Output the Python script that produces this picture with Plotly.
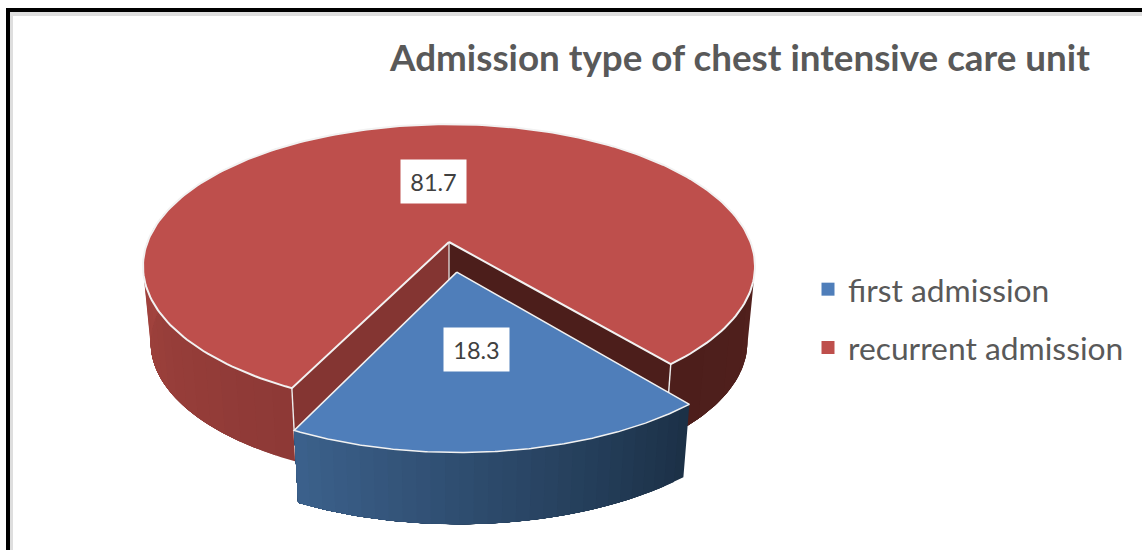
import numpy as np
import plotly.graph_objects as go

categories = ["first admission", "recurrent admission"]
values = [18.3, 81.7]
title_text = "Admission type of chest intensive care unit"

FIRST_ANGLE = 140.3      # pie rotation, degrees clockwise from the top
EXPLODE = [0.212, 0.0]   # slice pull-out, share of radius
TOP_COLORS = ["#4F7EBA", "#BE4F4C"]
FONT = "Lato"
TXT = "#595959"

# projection of the pie (screen pixels on hidden axes)
AX, AY = 449.0, 242.0
A, B, K = 301.5, 137.9, 0.171
DEPTH, SHRINK = 77.0, 0.975


def project(X, Y, bottom=False):
    X, Y = np.asarray(X, float), np.asarray(Y, float)
    s = 1.0 / (1.0 - K * Y)
    f = SHRINK if bottom else 1.0
    d = DEPTH if bottom else 0.0
    return AX + A * X * s * f, AY + d + B * Y * s * f


def polar(deg, r=1.0):
    a = np.radians(deg)
    return r * np.sin(a), -r * np.cos(a)


def mix(c1, c2, t):
    return "rgb(%d,%d,%d)" % tuple(round(p + (q - p) * t) for p, q in zip(c1, c2))


fractions = np.array(values) / sum(values)
spans = fractions * 360
starts = FIRST_ANGLE + np.concatenate([[0], np.cumsum(spans)[:-1]])
mids = starts + spans / 2
offsets = [polar(m, e) for m, e in zip(mids, EXPLODE)]

fig = go.Figure()


def poly(xs, ys, fill, line=None, width=0):
    fig.add_trace(go.Scatter(
        x=list(xs), y=list(ys), mode="lines", fill="toself", fillcolor=fill,
        line=dict(color=line or fill, width=width if line else 0),
        hoverinfo="skip", showlegend=False))


def side(i, a0, a1, colour_at, n):
    # painted from a0 onwards: each band reaches to a1, so no seams show between bands
    ox, oy = offsets[i]
    edges = np.linspace(a0, a1, n + 1)
    for j in range(n):
        t = np.linspace(edges[j], a1, 60)
        X, Y = polar(t)
        xt, yt = project(X + ox, Y + oy)
        xb, yb = project(X + ox, Y + oy, bottom=True)
        poly(np.r_[xt, xb[::-1], xt[0]], np.r_[yt, yb[::-1], yt[0]],
             colour_at((j + 0.5) / n))


def wedge(i, colour, width=2.0):
    ox, oy = offsets[i]
    t = np.linspace(starts[i], starts[i] + spans[i], 240)
    X, Y = polar(t)
    px, py = project(np.r_[ox, X + ox, ox], np.r_[oy, Y + oy, oy])
    poly(px, py, colour, "#F2F2F2", width)


# --- recurrent admission (back slice)
r0, r1 = starts[1], starts[1] + spans[1]
side(1, r0, r0 + 85, lambda t: mix((141, 57, 54), (168, 70, 64), t), 22)
side(1, r1 - 55, r1, lambda t: mix((84, 33, 30), (76, 30, 27), t), 6)

# cut walls
for ang, col in ((r1, "#4C1E1B"), (r0, "#843532")):
    ex, ey = polar(ang)
    xt, yt = project([0, ex], [0, ey])
    xb, yb = project([0, ex], [0, ey], bottom=True)
    poly([xt[0], xt[1], xb[1], xb[0], xt[0]], [yt[0], yt[1], yb[1], yb[0], yt[0]], col)
    fig.add_trace(go.Scatter(x=[xt[1], xb[1]], y=[yt[1], yb[1]], mode="lines",
                             line=dict(color="#EDEDED", width=1.4),
                             hoverinfo="skip", showlegend=False))
xa, ya = project([0], [0])
xa2, ya2 = project([0], [0], bottom=True)
fig.add_trace(go.Scatter(x=[xa[0], xa2[0]], y=[ya[0], ya2[0]], mode="lines",
                         line=dict(color="#EDEDED", width=1.2),
                         hoverinfo="skip", showlegend=False))
wedge(1, TOP_COLORS[1])

# --- first admission (pulled-out slice)
side(0, starts[0], starts[0] + spans[0],
     lambda t: mix((27, 48, 70), (60, 97, 140), t), 30)
wedge(0, TOP_COLORS[0], 1.5)

# --- legend entries
for name, col in zip(categories, TOP_COLORS):
    fig.add_trace(go.Scatter(x=[None], y=[None], mode="markers", name=name, legendgroup=name,
                             marker=dict(symbol="square", size=13, color=col)))

# --- value labels
for i, v in enumerate(values):
    X, Y = polar(mids[i], 0.48)
    lx, ly = project(X + offsets[i][0], Y + offsets[i][1])
    fig.add_annotation(x=float(lx), y=float(ly), text=f"{v:.1f}", showarrow=False,
                       bgcolor="white", width=63, height=41, valign="middle",
                       font=dict(family=FONT, size=23.5, color="#404040"))

# --- frame of the picture
frame = [((6, 8), (10, 550), "black"), ((6, 8), (1142, 12), "black"),
         ((10, 12), (13, 550), "#DEDEDE"), ((10, 12), (1142, 16), "#DEDEDE")]
shapes = [dict(type="rect", xref="x", yref="y", x0=p[0], y0=p[1], x1=q[0], y1=q[1],
               fillcolor=c, line_width=0, layer="below") for p, q, c in frame]

fig.update_layout(
    width=1142, height=550, autosize=False,
    margin=dict(l=0, r=0, t=0, b=0),
    paper_bgcolor="white", plot_bgcolor="white",
    xaxis=dict(range=[0, 1142], visible=False, fixedrange=True),
    yaxis=dict(range=[550, 0], visible=False, fixedrange=True),
    shapes=shapes,
    title=dict(text=f"<b>{title_text}</b>", x=390 / 1142, xanchor="left", xref="paper",
               y=1 - 58 / 550, yanchor="middle", yref="paper",
               font=dict(family=FONT, size=36.8, color=TXT)),
    legend=dict(x=808 / 1142, y=1 - 262 / 550, xanchor="left", yanchor="top",
                font=dict(family=FONT, size=31.8, color=TXT), tracegroupgap=14,
                traceorder="grouped", bgcolor="rgba(0,0,0,0)", itemclick=False,
                itemdoubleclick=False),
    showlegend=True,
    hovermode=False,
)
fig.write_html("out.html", config=dict(displayModeBar=False),
               post_script="document.body.style.margin='0';document.documentElement.style.overflow='hidden';")
